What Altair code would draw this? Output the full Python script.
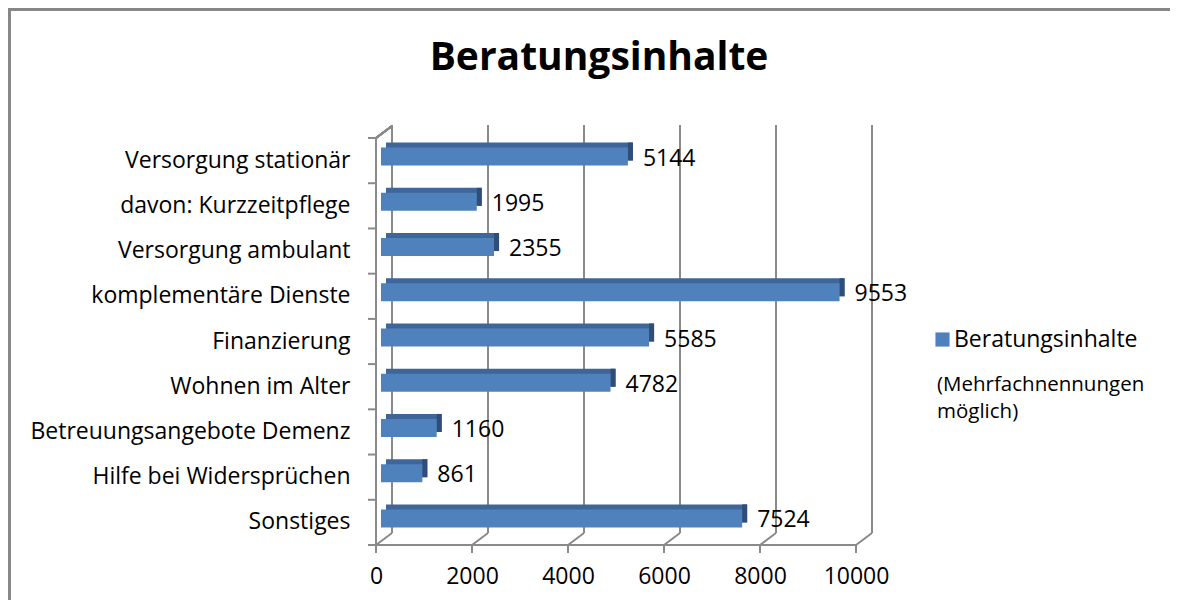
import altair as alt
import pandas as pd

categories = ["Versorgung stationär", "davon: Kurzzeitpflege", "Versorgung ambulant",
              "komplementäre Dienste", "Finanzierung", "Wohnen im Alter",
              "Betreuungsangebote Demenz", "Hilfe bei Widersprüchen", "Sonstiges"]
values = [5144, 1995, 2355, 9553, 5585, 4782, 1160, 861, 7524]
x_ticks = [0, 2000, 4000, 6000, 8000, 10000]
series_name = "Beratungsinhalte"
title_text = "Beratungsinhalte"
note_lines = ["(Mehrfachnennungen", "möglich)"]

W, H = 480, 407
DX, DY = 16, -12
FONT = "Open Sans"
FS = 23
GRID = "#8a8a8a"
FRONT = "#4F81BD"
TOP = "#3E6699"
SIDE = "#2E4D78"

df = pd.DataFrame({"cat": categories, "val": values, "series": series_name})
ticks_df = pd.DataFrame({"t": x_ticks})

xs = alt.Scale(domain=[0, 10000], nice=False)
ys = alt.Scale(domain=categories, paddingInner=0, paddingOuter=0)

X = alt.X("val:Q", scale=xs, axis=alt.Axis(title=None, domain=False, ticks=False, grid=False,
                                             values=x_ticks, format="d", labelPadding=20,
                                             labelFontSize=FS, labelFont=FONT,
                                             labelColor="black", labelFlush=False))
Y = alt.Y("cat:N", scale=ys, sort=categories,
          axis=alt.Axis(title=None, domain=False, ticks=False, grid=False, labelPadding=26,
                        labelFontSize=FS, labelFont=FONT, labelColor="black", labelLimit=400))

BAR = 18
base = alt.Chart(df)

top_face = base.mark_bar(size=BAR, xOffset=10, x2Offset=10, yOffset=-9, color=TOP).encode(x=X, y=Y)
side_face = base.mark_bar(size=BAR, xOffset=5, x2Offset=10, yOffset=-9, color=SIDE).encode(
    x=X, x2="val:Q", y=Y)
front_face = base.mark_bar(size=BAR, xOffset=5, x2Offset=5, yOffset=-4).encode(
    x=X, y=Y,
    color=alt.Color("series:N", scale=alt.Scale(range=[FRONT]),
                    legend=alt.Legend(orient="none", legendX=555, legendY=190, title=None,
                                      symbolType="square", symbolSize=200, symbolStrokeWidth=0,
                                      labelFontSize=FS, labelFont=FONT, labelColor="black",
                                      labelLimit=400, padding=0, labelOffset=0)))
value_labels = base.mark_text(align="left", baseline="middle", dx=20, dy=-2, fontSize=FS,
                              font=FONT, color="black").encode(x=X, y=Y, text="val:Q")

tb = alt.Chart(ticks_df)
rule_kw = dict(color=GRID, strokeWidth=2)
back_grid = tb.mark_rule(xOffset=DX, **rule_kw).encode(
    x=alt.X("t:Q", scale=xs), y=alt.value(DY - 1), y2=alt.value(H + DY))
floor_diag = tb.mark_rule(x2Offset=DX, **rule_kw).encode(
    x=alt.X("t:Q", scale=xs), x2="t:Q", y=alt.value(H), y2=alt.value(H + DY))
bottom_ticks = tb.mark_rule(**rule_kw).encode(
    x=alt.X("t:Q", scale=xs), y=alt.value(H), y2=alt.value(H + 8))
floor_front = tb.mark_rule(**rule_kw).encode(x=alt.value(-8), x2=alt.value(W), y=alt.value(H))
left_front = tb.mark_rule(**rule_kw).encode(x=alt.value(0), y=alt.value(0), y2=alt.value(H + 8))
left_diag = tb.mark_rule(**rule_kw).encode(x=alt.value(0), x2=alt.value(DX), y=alt.value(0),
                                           y2=alt.value(DY))
left_ticks = base.mark_rule(yOffset=-H / 18, **rule_kw).encode(
    y=Y, x=alt.value(-8), x2=alt.value(0))

frame_left = tb.mark_rule(color="#878787", strokeWidth=3).encode(
    x=alt.value(-367), y=alt.value(-130), y2=alt.value(470))
frame_top = tb.mark_rule(color="#878787", strokeWidth=3).encode(
    x=alt.value(-368), x2=alt.value(800), y=alt.value(-129))

title = alt.Chart(pd.DataFrame({"t": [title_text]})).mark_text(
    font=FONT, fontSize=39, fontWeight="bold", align="center", baseline="middle", color="black"
).encode(x=alt.value(223), y=alt.value(-80), text="t:N")

note1 = alt.Chart(pd.DataFrame({"t": [note_lines[0]]})).mark_text(
    font=FONT, fontSize=20.5, align="left", baseline="middle", color="black"
).encode(x=alt.value(561), y=alt.value(247), text="t:N")
note2 = alt.Chart(pd.DataFrame({"t": [note_lines[1]]})).mark_text(
    font=FONT, fontSize=20.5, align="left", baseline="middle", color="black"
).encode(x=alt.value(561), y=alt.value(274), text="t:N")

chart = alt.layer(
    frame_left, frame_top, back_grid, floor_diag, bottom_ticks, floor_front, left_front,
    left_diag, left_ticks, top_face, side_face, front_face, value_labels, title, note1, note2
).properties(
    width=W, height=H, autosize="none", background="white",
    padding={"left": 368, "top": 130, "right": 314, "bottom": 55}
).configure_view(stroke=None)

chart.save("out.html", embed_options={"renderer": "svg", "actions": False})
